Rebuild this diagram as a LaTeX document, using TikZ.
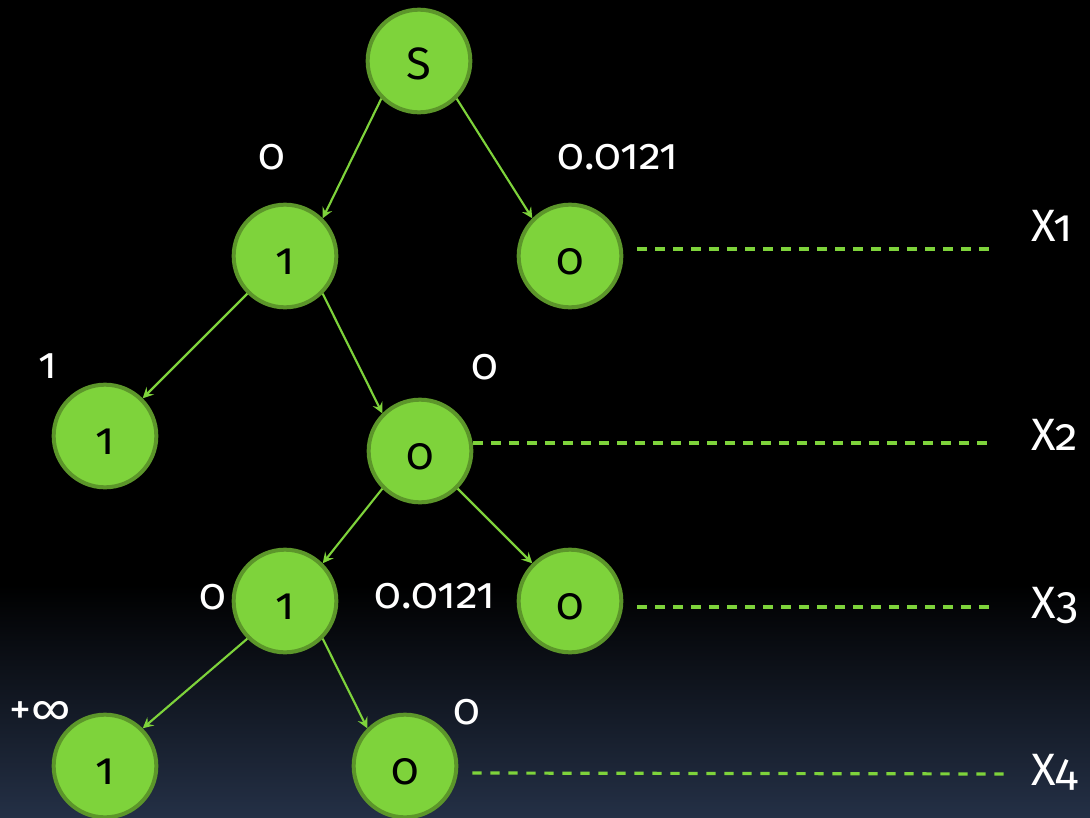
\documentclass[tikz,border=0pt]{standalone}
\usepackage{fontspec}
\setmainfont{Fira Sans}[Numbers=OldStyle]
\usetikzlibrary{arrows.meta}
\definecolor{gfill}{RGB}{126,211,59}
\definecolor{gborder}{RGB}{92,150,42}
\definecolor{bgbot}{RGB}{36,48,70}
\tikzset{
  vnode/.style={circle, draw=gborder, fill=gfill, line width=3pt, minimum size=77pt,
    inner sep=0pt, text=black, font=\fontsize{34}{40}\selectfont, text height=27pt, text depth=0pt},
  tedge/.style={draw=gfill, line width=1.6pt, -{Stealth[length=8pt,width=8pt,inset=3pt]}},
  lbl/.style={text=white, font=\fontsize{33}{40}\selectfont, inner sep=0pt, text height=17.5pt, text depth=0pt},
  xlbl/.style={text=white, font=\fontsize{34}{40}\selectfont, inner sep=0pt, anchor=base west},
  level/.style={draw=gfill, line width=2.4pt, dash pattern=on 7pt off 6.5pt},
}
\begin{document}
\begin{tikzpicture}[x=0.75pt,y=-0.75pt]
\useasboundingbox (0,0) rectangle (1090,818);
\fill[black] (0,0) rectangle (1090,818);
\shade[top color=black, bottom color=bgbot] (0,585) rectangle (1090,818);

% nodes
\node[vnode] (S)   at (419,61)  {S};
\node[vnode] (a1)  at (285,256) {1};
\node[vnode] (a0)  at (570,256) {0};
\node[vnode] (b1)  at (105,436) {1};
\node[vnode] (b0)  at (420,451) {0};
\node[vnode] (c1)  at (285,601) {1};
\node[vnode] (c0)  at (570,601) {0};
\node[vnode] (d1)  at (105,766) {1};
\node[vnode] (d0)  at (405,766) {0};

% edges
\draw[tedge] (S.south west) -- (a1.north east);
\draw[tedge] (S.south east) -- (a0.north west);
\draw[tedge] (a1.south west) -- (b1.north east);
\draw[tedge] (a1.south east) -- (b0.north west);
\draw[tedge] (b0.south west) -- (c1.north east);
\draw[tedge] (b0.south east) -- (c0.north west);
\draw[tedge] (c1.south west) -- (d1.north east);
\draw[tedge] (c1.south east) -- (d0.north west);

% edge labels
\node[lbl] (l1) at (272,158) {0};
\node[lbl] (l2) at (618,158) {0.0121};
\node[lbl] (l3) at (48,367)  {1};
\node[lbl] (l4) at (485,368) {0};
\node[lbl] (l5) at (213,598) {0};
\node[lbl] (l6) at (435,597) {0.0121};
\node[lbl] (l7) at (40,713)  {+∞};
\node[lbl] (l8) at (467,713) {0};

% level labels
\node[xlbl] (X1) at (1031,241) {X1};
\node[xlbl] (X2) at (1031,450) {X2};
\node[xlbl] (X3) at (1031,618) {X3};
\node[xlbl] (X4) at (1031,785) {X4};

\coordinate (e1) at (997,249);
\coordinate (e2) at (993,443);
\coordinate (e3) at (997,607);
\coordinate (e4) at (1012,774);

\draw[level] ([shift={(14,-7)}]a0.east) -- (e1);
\draw[level] ([shift={(0,-8)}]b0.east) -- (e2);
\draw[level] ([shift={(14,6)}]c0.east) -- (e3);
\draw[level] ([shift={(14,7)}]d0.east) -- (e4);
\end{tikzpicture}
\end{document}
